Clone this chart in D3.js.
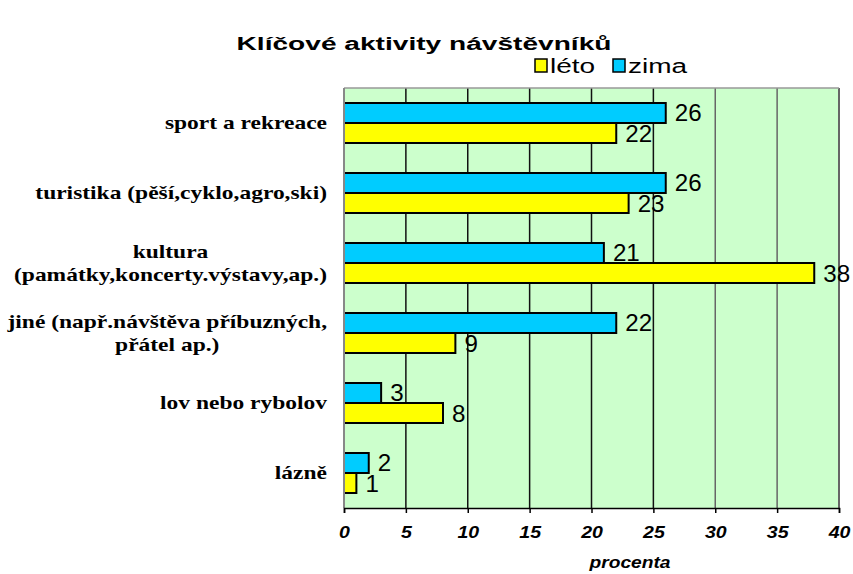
<!DOCTYPE html>
<html>
<head>
<meta charset="utf-8">
<script src="https://cdn.jsdelivr.net/npm/d3@7"></script>
<style>
  body { margin: 0; background: #fff; }
</style>
</head>
<body>
<script>
const width = 853;
const height = 574;

const categories = [
    ['sport a rekreace'],
    ['turistika (pěší,cyklo,agro,ski)'],
    ['kultura', '(památky,koncerty.výstavy,ap.)'],
    ['jiné (např.návštěva příbuzných,', 'přátel ap.)'],
    ['lov nebo rybolov'],
    ['lázně']
];
const zima = [26, 26, 21, 22, 3, 2];
const leto = [22, 23, 38, 9, 8, 1];
const xTicks = [0, 5, 10, 15, 20, 25, 30, 35, 40];

const plot = { left: 344, right: 839, top: 88, bottom: 508 };
const sans = 'Liberation Sans, Arial, sans-serif';
const serif = 'Liberation Serif, Times New Roman, serif';

const svg = d3.select('body')
    .append('svg')
    .attr('width', width)
    .attr('height', height);

const x = d3.scaleLinear().domain([0, 40]).range([plot.left, plot.right]);
const y = d3.scaleBand().domain(d3.range(categories.length)).range([plot.top, plot.bottom]);
const barH = 20;

// text that is a bit wider than the font, like the original
function label(parent, tx, ty, str, sx) {
    return parent.append('text')
        .attr('transform', `translate(${tx},${ty}) scale(${sx},1)`)
        .text(str);
}

// plot background
svg.append('rect')
    .attr('x', plot.left)
    .attr('y', plot.top)
    .attr('width', plot.right - plot.left)
    .attr('height', plot.bottom - plot.top)
    .attr('fill', '#ccffcc');

// grid lines
svg.selectAll('.grid')
    .data(xTicks.slice(1))
    .enter()
    .append('line')
    .attr('x1', d => x(d))
    .attr('x2', d => x(d))
    .attr('y1', plot.top)
    .attr('y2', plot.bottom)
    .attr('stroke', d => d >= 30 ? '#666' : '#111')
    .attr('stroke-width', d => d == 40 ? 2 : 1.5);

svg.append('line')
    .attr('x1', plot.left).attr('x2', plot.right)
    .attr('y1', plot.top).attr('y2', plot.top)
    .attr('stroke', '#999').attr('stroke-width', 1.5);

// bars
const groups = svg.selectAll('.cat')
    .data(categories)
    .enter()
    .append('g')
    .attr('class', 'cat');

groups.append('rect')
    .attr('x', x(0))
    .attr('y', (d, i) => y(i) + y.bandwidth() / 2 - barH)
    .attr('width', (d, i) => x(zima[i]) - x(0))
    .attr('height', barH)
    .attr('fill', '#00ccff')
    .attr('stroke', '#000')
    .attr('stroke-width', 2);

groups.append('rect')
    .attr('x', x(0))
    .attr('y', (d, i) => y(i) + y.bandwidth() / 2)
    .attr('width', (d, i) => x(leto[i]) - x(0))
    .attr('height', barH)
    .attr('fill', '#ffff00')
    .attr('stroke', '#000')
    .attr('stroke-width', 2);

// value labels
groups.each(function (d, i) {
    const g = d3.select(this);
    const cy = y(i) + y.bandwidth() / 2;
    label(g, x(zima[i]) + 9, cy - 2, zima[i], 1.05)
        .style('font-family', sans).style('font-size', '23px');
    label(g, x(leto[i]) + 9, cy + barH - 1, leto[i], 1.05)
        .style('font-family', sans).style('font-size', '23px');
});

// category labels, centred block with right edge at 327
groups.each(function (d, i) {
    const g = d3.select(this);
    const cy = y(i) + y.bandwidth() / 2;
    const lh = 23;
    const sx = 1.27;
    const texts = d.map((line, j) => label(g, 0, 0, line, sx)
        .style('font-family', serif)
        .style('font-weight', 'bold')
        .style('font-size', '18.5px')
        .attr('text-anchor', 'middle'));
    const maxW = d3.max(texts, t => t.node().getComputedTextLength()) * sx;
    const cx = 327 - maxW / 2;
    texts.forEach((t, j) => {
        t.attr('transform', `translate(${cx},${cy + 6 + (j - (d.length - 1) / 2) * lh}) scale(${sx},1)`);
    });
});

// left axis line
svg.append('line')
    .attr('x1', plot.left).attr('x2', plot.left)
    .attr('y1', plot.top).attr('y2', plot.bottom)
    .attr('stroke', '#888').attr('stroke-width', 2);

// x axis
const xAxis = d3.axisBottom(x).tickValues(xTicks).tickSize(5).tickPadding(13);
const ax = svg.append('g')
    .attr('transform', `translate(0, ${plot.bottom})`)
    .call(xAxis);
ax.select('.domain').attr('stroke', '#000').attr('stroke-width', 1.5);
ax.selectAll('.tick line').attr('stroke', '#000').attr('stroke-width', 1.5);
ax.selectAll('.tick text')
    .attr('transform', 'scale(1.15,1)')
    .style('font-family', sans)
    .style('font-size', '17px')
    .style('font-weight', 'bold')
    .style('font-style', 'italic')
    .attr('fill', '#000');

label(svg, 630, 568, 'procenta', 1.2)
    .attr('text-anchor', 'middle')
    .style('font-family', sans)
    .style('font-size', '16px')
    .style('font-weight', 'bold')
    .style('font-style', 'italic');

// title
label(svg, 424, 50, 'Klíčové aktivity návštěvníků', 1.48)
    .attr('text-anchor', 'middle')
    .style('font-family', sans)
    .style('font-size', '19px')
    .style('font-weight', 'bold');

// legend
const legend = svg.append('g').attr('id', 'legend');
const legendItems = [
    { label: 'léto', color: '#ffff00', x: 535 },
    { label: 'zima', color: '#00ccff', x: 613 }
];
legendItems.forEach(item => {
    legend.append('rect')
        .attr('x', item.x)
        .attr('y', 59)
        .attr('width', 12)
        .attr('height', 13)
        .attr('fill', item.color)
        .attr('stroke', '#000')
        .attr('stroke-width', 1.5);
    label(legend, item.x + 15, 73, item.label, 1.4)
        .style('font-family', sans)
        .style('font-size', '20px');
});
</script>
</body>
</html>
